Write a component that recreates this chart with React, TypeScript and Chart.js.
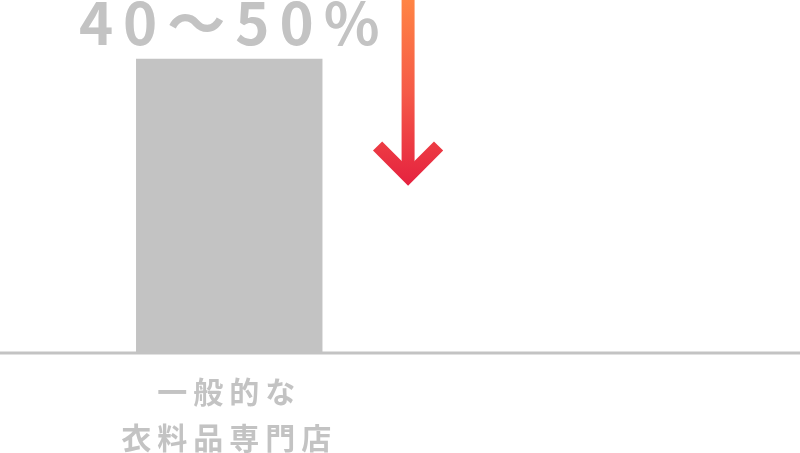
import React, { useRef, useEffect } from 'react';
import { Chart, registerables } from 'chart.js';

Chart.register(...registerables);

// Chart data
const categories: string[][] = [['一般的な', '衣料品専門店'], ['']];
const values: (number | null)[] = [45, null];
const valueLabels: string[] = ['40〜50%', ''];
const yMax = 54;
// arrow: position in category units and value where it points to
const arrowAt = 0.47;
const arrowTo = 27;

const GRAY = '#c3c3c3';
const FONT = '"Noto Sans CJK JP", "Noto Sans", sans-serif';

const decorPlugin = {
  id: 'decor',
  beforeDraw(chart: any) {
    chart.ctx.letterSpacing = '6px';
  },
  afterDraw(chart: any) {
    const { ctx, scales, width } = chart;
    const x = scales.x;
    const y = scales.y;
    ctx.save();

    // baseline across full width
    const baseY = y.getPixelForValue(0);
    ctx.strokeStyle = GRAY;
    ctx.lineWidth = 3;
    ctx.beginPath();
    ctx.moveTo(0, baseY);
    ctx.lineTo(width, baseY);
    ctx.stroke();

    // value labels above bars
    const meta = chart.getDatasetMeta(0);
    ctx.fillStyle = GRAY;
    ctx.font = `bold 58px ${FONT}`;
    ctx.letterSpacing = '10px';
    ctx.textAlign = 'center';
    ctx.textBaseline = 'alphabetic';
    meta.data.forEach((bar: any, i: number) => {
      if (values[i] == null) return;
      ctx.fillText(valueLabels[i], bar.x + 5, bar.y - 14);
    });

    // arrow
    const ax = x.getPixelForValue(arrowAt);
    const tipY = y.getPixelForValue(arrowTo);
    const grad = ctx.createLinearGradient(0, 0, 0, tipY + 10);
    grad.addColorStop(0, '#ff8444');
    grad.addColorStop(0.5, '#f55a48');
    grad.addColorStop(1, '#e5213f');
    ctx.strokeStyle = grad;
    ctx.lineWidth = 13;
    ctx.lineCap = 'butt';
    ctx.lineJoin = 'miter';
    ctx.beginPath();
    ctx.moveTo(ax, -5);
    ctx.lineTo(ax, tipY);
    ctx.stroke();
    ctx.beginPath();
    ctx.moveTo(ax - 30.5, tipY - 30.5);
    ctx.lineTo(ax, tipY);
    ctx.lineTo(ax + 30.5, tipY - 30.5);
    ctx.stroke();

    ctx.restore();
    ctx.letterSpacing = '0px';
  },
};

const App: React.FC = () => {
  const chartRef = useRef<HTMLCanvasElement>(null);
  const chartInstance = useRef<Chart | null>(null);

  useEffect(() => {
    if (!chartRef.current) return;
    if (chartInstance.current) chartInstance.current.destroy();
    const ctx = chartRef.current.getContext('2d');
    if (!ctx) return;

    chartInstance.current = new Chart(ctx, {
      type: 'bar',
      data: {
        labels: categories,
        datasets: [
          {
            data: values,
            backgroundColor: GRAY,
            borderWidth: 0,
            barPercentage: 0.49,
            categoryPercentage: 1,
          },
        ],
      },
      options: {
        responsive: false,
        animation: false,
        layout: { padding: { left: 39, right: 0, top: 0, bottom: 0 } },
        plugins: {
          legend: { display: false },
          tooltip: { enabled: false },
        },
        scales: {
          x: {
            grid: { display: false },
            border: { display: false },
            ticks: {
              color: GRAY,
              padding: 8,
              maxRotation: 0,
              font: { family: FONT, size: 30, weight: 'bold', lineHeight: 1.52 },
            },
            afterFit: (scale: any) => {
              scale.height = 100;
            },
          },
          y: {
            display: false,
            min: 0,
            max: yMax,
          },
        },
      },
      plugins: [decorPlugin],
    });

    return () => {
      if (chartInstance.current) {
        chartInstance.current.destroy();
        chartInstance.current = null;
      }
    };
  }, []);

  return (
    <div style={{ position: 'absolute', left: 0, top: 0, width: 800, height: 453 }}>
      <canvas ref={chartRef} width={800} height={453}></canvas>
    </div>
  );
};

export default App;
